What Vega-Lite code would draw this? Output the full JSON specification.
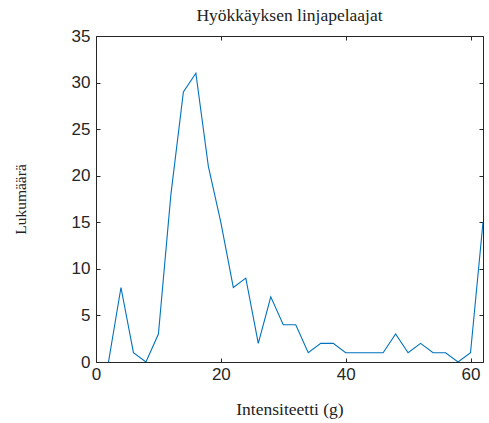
{
  "$schema": "https://vega.github.io/schema/vega-lite/v6.json",
  "width": 387,
  "height": 326,
  "autosize": {"type": "none"},
  "padding": {"left": 96, "top": 36, "right": 6, "bottom": 61},
  "title": {
    "text": "Hyökkäyksen linjapelaajat",
    "font": "Liberation Serif",
    "fontSize": 17.5,
    "fontWeight": "normal",
    "color": "#222",
    "offset": 3
  },
  "data": {
    "values": [
      {"g": 2, "n": 0}, {"g": 4, "n": 8}, {"g": 6, "n": 1}, {"g": 8, "n": 0},
      {"g": 10, "n": 3}, {"g": 12, "n": 18}, {"g": 14, "n": 29}, {"g": 16, "n": 31},
      {"g": 18, "n": 21}, {"g": 20, "n": 15}, {"g": 22, "n": 8}, {"g": 24, "n": 9},
      {"g": 26, "n": 2}, {"g": 28, "n": 7}, {"g": 30, "n": 4}, {"g": 32, "n": 4},
      {"g": 34, "n": 1}, {"g": 36, "n": 2}, {"g": 38, "n": 2}, {"g": 40, "n": 1},
      {"g": 42, "n": 1}, {"g": 44, "n": 1}, {"g": 46, "n": 1}, {"g": 48, "n": 3},
      {"g": 50, "n": 1}, {"g": 52, "n": 2}, {"g": 54, "n": 1}, {"g": 56, "n": 1},
      {"g": 58, "n": 0}, {"g": 60, "n": 1}, {"g": 62, "n": 15}
    ]
  },
  "config": {
    "view": {"stroke": "#262626", "strokeWidth": 1},
    "axis": {
      "grid": false,
      "domain": false,
      "tickColor": "#262626",
      "tickSize": -4,
      "labelFlush": false,
      "labelFont": "Liberation Sans",
      "labelFontSize": 17,
      "labelColor": "#262626",
      "titleFont": "Liberation Serif",
      "titleFontSize": 17.5,
      "titleFontWeight": "normal",
      "titleColor": "#222"
    }
  },
  "layer": [
    {
      "mark": {"type": "line", "color": "#0072BD", "strokeWidth": 1.1, "clip": true},
      "encoding": {
        "x": {
          "field": "g", "type": "quantitative",
          "scale": {"domain": [0, 62], "nice": false, "zero": false},
          "axis": {"values": [0, 20, 40, 60], "title": "Intensiteetti (g)", "labelPadding": 8, "titlePadding": 18}
        },
        "y": {
          "field": "n", "type": "quantitative",
          "scale": {"domain": [0, 35], "nice": false},
          "axis": {"values": [0, 5, 10, 15, 20, 25, 30, 35], "title": "Lukumäärä", "titleFontSize": 15.5, "labelPadding": 10, "titlePadding": 43}
        }
      }
    },
    {
      "mark": {"type": "line", "opacity": 0, "clip": true},
      "encoding": {
        "x": {
          "field": "g", "type": "quantitative",
          "scale": {"domain": [0, 62], "nice": false, "zero": false},
          "axis": {"orient": "top", "values": [0, 20, 40, 60], "labels": false, "title": null}
        },
        "y": {
          "field": "n", "type": "quantitative",
          "scale": {"domain": [0, 35], "nice": false},
          "axis": {"orient": "right", "values": [0, 5, 10, 15, 20, 25, 30, 35], "labels": false, "title": null}
        }
      }
    }
  ],
  "resolve": {"axis": {"x": "independent", "y": "independent"}}
}
